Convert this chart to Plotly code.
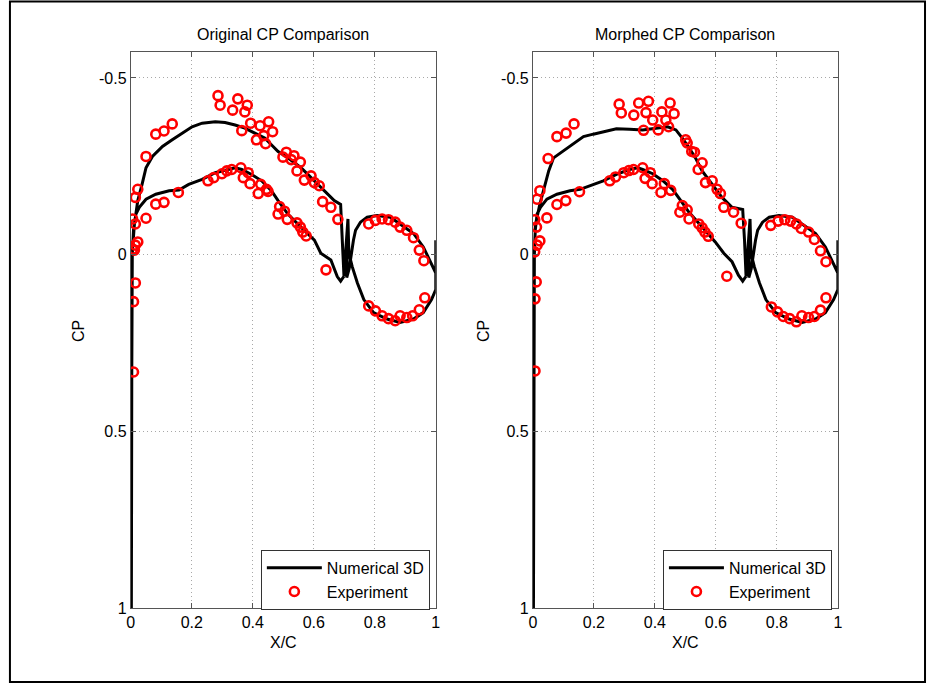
import plotly.graph_objects as go

W, H = 932, 698

# ---------------- data ----------------
x_ticks = [0, 0.2, 0.4, 0.6, 0.8, 1]
x_tick_text = ["0", "0.2", "0.4", "0.6", "0.8", "1"]
y_ticks = [-0.5, 0, 0.5, 1]
y_tick_text = ["-0.5", "0", "0.5", "1"]

titles = ["Original CP Comparison", "Morphed CP Comparison"]

# Numerical 3D, main element (lower surface TE->LE, stagnation, upper surface LE->TE)
left_main_lower_x = [0.699, 0.688, 0.677, 0.667, 0.656, 0.623, 0.602, 0.558, 0.515, 0.483, 0.461, 0.429, 0.396,
                     0.364, 0.342, 0.320, 0.277, 0.234, 0.190, 0.158, 0.126, 0.082, 0.050, 0.028, 0.017, 0.009,
                     0.005, 0.003, 0.002]
left_main_lower_cp = [0.061, 0.075, 0.062, 0.040, 0.015, -0.004, -0.041, -0.078, -0.115, -0.153, -0.181, -0.209,
                      -0.227, -0.241, -0.246, -0.241, -0.232, -0.213, -0.199, -0.183, -0.181, -0.171, -0.157,
                      -0.134, -0.115, -0.070, 0.000, 0.400, 1.000]
left_main_upper_x = [0.003, 0.004, 0.012, 0.023, 0.037, 0.050, 0.071, 0.093, 0.104, 0.136, 0.169, 0.201, 0.234,
                     0.277, 0.309, 0.342, 0.374, 0.407, 0.439, 0.461, 0.483, 0.515, 0.558, 0.602, 0.645, 0.667,
                     0.688, 0.694, 0.699]
left_main_upper_cp = [0.400, 0.006, -0.087, -0.153, -0.199, -0.246, -0.278, -0.297, -0.306, -0.325, -0.344, -0.362,
                      -0.372, -0.376, -0.374, -0.367, -0.358, -0.344, -0.330, -0.311, -0.292, -0.274, -0.246,
                      -0.209, -0.171, -0.153, -0.142, -0.040, 0.061]

right_main_lower_x = [0.699, 0.688, 0.674, 0.664, 0.653, 0.626, 0.598, 0.555, 0.512, 0.485, 0.458, 0.425, 0.393,
                      0.360, 0.344, 0.317, 0.274, 0.231, 0.187, 0.155, 0.122, 0.079, 0.046, 0.025, 0.014, 0.008,
                      0.005, 0.003, 0.002]
right_main_lower_cp = [0.061, 0.075, 0.058, 0.040, 0.020, -0.004, -0.036, -0.078, -0.120, -0.153, -0.185, -0.210,
                       -0.229, -0.241, -0.246, -0.241, -0.227, -0.209, -0.195, -0.185, -0.181, -0.171, -0.157,
                       -0.134, -0.115, -0.070, 0.000, 0.400, 1.000]
right_main_upper_x = [0.003, 0.004, 0.009, 0.023, 0.036, 0.052, 0.068, 0.090, 0.122, 0.166, 0.198, 0.241, 0.274,
                      0.317, 0.360, 0.404, 0.442, 0.469, 0.490, 0.512, 0.533, 0.555, 0.588, 0.620, 0.653, 0.675,
                      0.688, 0.694, 0.699]
right_main_upper_cp = [0.400, 0.006, -0.087, -0.143, -0.185, -0.237, -0.274, -0.288, -0.306, -0.334, -0.341, -0.350,
                       -0.356, -0.355, -0.353, -0.358, -0.362, -0.353, -0.330, -0.302, -0.274, -0.237, -0.199,
                       -0.162, -0.134, -0.130, -0.128, -0.040, 0.061]

# Numerical 3D, flap element (same in both panels)
flap_x = [0.712, 0.708, 0.716, 0.721, 0.730, 0.737, 0.753, 0.775, 0.807, 0.851, 0.883, 0.927, 0.959, 0.986, 1.000,
          1.000, 1.000, 0.986, 0.959, 0.927, 0.883, 0.840, 0.796, 0.764, 0.743, 0.726, 0.715, 0.712]
flap_cp = [-0.101, 0.065, 0.040, 0.006, -0.041, -0.069, -0.092, -0.106, -0.111, -0.106, -0.087, -0.060, -0.022,
           0.024, 0.052, -0.041, 0.099, 0.127, 0.164, 0.182, 0.192, 0.182, 0.164, 0.127, 0.080, 0.034, -0.004,
           -0.101]

# Experiment
left_exp_x = [0.082, 0.109, 0.136, 0.050, 0.023, 0.015, 0.006, 0.015, 0.023, 0.015, 0.006, 0.012,
              0.015, 0.009, 0.009,
              0.286, 0.293, 0.351, 0.334, 0.382, 0.374, 0.393, 0.364, 0.424, 0.452, 0.465, 0.436, 0.412, 0.442,
              0.510, 0.499, 0.535, 0.526, 0.556, 0.545, 0.591, 0.569, 0.602, 0.618, 0.629, 0.656, 0.679,
              0.082, 0.109, 0.156, 0.050, 0.253, 0.272, 0.299, 0.315, 0.331, 0.361, 0.385, 0.369, 0.391, 0.426,
              0.445, 0.450, 0.418, 0.488, 0.504, 0.483, 0.513, 0.545, 0.556, 0.564, 0.575, 0.640,
              0.780, 0.802, 0.824, 0.845, 0.867, 0.883, 0.905, 0.927, 0.946, 0.961, 0.964, 0.946, 0.924, 0.905,
              0.883, 0.867, 0.845, 0.824, 0.802, 0.780]
left_exp_cp = [-0.341, -0.350, -0.370, -0.278, -0.185, -0.162, -0.101, -0.087, -0.036, -0.027, -0.015, -0.013,
               0.080, 0.133, 0.332,
               -0.450, -0.423, -0.441, -0.409, -0.423, -0.404, -0.372, -0.351, -0.365, -0.376, -0.348, -0.337,
               -0.325, -0.314, -0.290, -0.276, -0.280, -0.269, -0.262, -0.237, -0.223, -0.211, -0.204, -0.195,
               -0.150, -0.134, -0.100,
               -0.143, -0.148, -0.176, -0.103, -0.209, -0.218, -0.229, -0.237, -0.241, -0.246, -0.232, -0.218,
               -0.201, -0.199, -0.185, -0.179, -0.173, -0.136, -0.123, -0.115, -0.100, -0.090, -0.078, -0.064,
               -0.053, 0.043,
               -0.087, -0.097, -0.101, -0.099, -0.092, -0.078, -0.069, -0.048, -0.013, 0.017, 0.122, 0.156,
               0.173, 0.178, 0.173, 0.187, 0.181, 0.173, 0.159, 0.145]

right_exp_x = [0.079, 0.109, 0.135, 0.050, 0.023, 0.014, 0.006, 0.012, 0.023, 0.014, 0.006,
               0.011, 0.007, 0.007,
               0.283, 0.290, 0.347, 0.331, 0.379, 0.371, 0.393, 0.363, 0.423, 0.450, 0.463, 0.436, 0.411, 0.445,
               0.501, 0.506, 0.521, 0.530, 0.555, 0.542, 0.588, 0.566, 0.604, 0.615, 0.626, 0.658, 0.683,
               0.079, 0.108, 0.153, 0.046, 0.252, 0.271, 0.298, 0.315, 0.330, 0.360, 0.385, 0.368, 0.391, 0.431,
               0.452, 0.420, 0.490, 0.506, 0.482, 0.512, 0.544, 0.555, 0.564, 0.575, 0.636,
               0.780, 0.804, 0.826, 0.845, 0.864, 0.880, 0.904, 0.923, 0.943, 0.961, 0.961, 0.943, 0.923, 0.904,
               0.882, 0.864, 0.842, 0.821, 0.802, 0.782]
right_exp_cp = [-0.334, -0.344, -0.370, -0.272, -0.181, -0.157, -0.099, -0.078, -0.039, -0.027, -0.008,
                0.077, 0.125, 0.329,
                -0.426, -0.401, -0.429, -0.395, -0.434, -0.402, -0.381, -0.352, -0.404, -0.429, -0.399, -0.381,
                -0.353, -0.362, -0.325, -0.316, -0.292, -0.290, -0.260, -0.241, -0.209, -0.204, -0.185, -0.173,
                -0.134, -0.120, -0.089,
                -0.142, -0.153, -0.178, -0.104, -0.209, -0.220, -0.232, -0.238, -0.241, -0.246, -0.232, -0.216,
                -0.201, -0.201, -0.182, -0.176, -0.139, -0.127, -0.120, -0.101, -0.087, -0.076, -0.064, -0.052,
                0.061,
                -0.083, -0.095, -0.099, -0.095, -0.087, -0.074, -0.064, -0.043, -0.011, 0.020, 0.122, 0.157,
                0.175, 0.178, 0.173, 0.190, 0.181, 0.175, 0.162, 0.148]

# ---------------- figure ----------------
FONT = "Liberation Sans, Arial, Helvetica, sans-serif"

def px_x(p):
    return p / W

def px_y(p):
    return 1 - p / H

left_dom = [px_x(128), px_x(436)]
right_dom = [px_x(534), px_x(842)]
y_dom = [px_y(616), px_y(53)]
y_range = [1.0, -0.5726]

fig = go.Figure()

line_style = dict(color="black", width=3)
marker_style = dict(symbol="circle-open", size=9, color="red", line=dict(color="red", width=2.6))

panels = [
    ("x", "y", "legend", left_main_lower_x, left_main_lower_cp, left_main_upper_x, left_main_upper_cp,
     left_exp_x, left_exp_cp),
    ("x2", "y2", "legend2", right_main_lower_x, right_main_lower_cp, right_main_upper_x, right_main_upper_cp,
     right_exp_x, right_exp_cp),
]
for xa, ya, lg, lx, lc, ux, uc, ex, ec in panels:
    nx = lx + ux + flap_x
    nc = lc + uc + flap_cp
    fig.add_trace(go.Scatter(x=nx, y=nc, mode="lines", line=line_style, name="Numerical 3D",
                             xaxis=xa, yaxis=ya, legend=lg))
    fig.add_trace(go.Scatter(x=ex, y=ec, mode="markers", marker=marker_style, name="Experiment",
                             xaxis=xa, yaxis=ya, legend=lg))

axis_common = dict(
    showline=True, linecolor="#555", linewidth=1, mirror="ticks",
    ticks="inside", ticklen=5, tickcolor="#555",
    showgrid=True, gridcolor="#a8a8a8", griddash="1px,3px", gridwidth=1,
    zeroline=False, tickfont=dict(family=FONT, size=16, color="black"),
)

legend_common = dict(y=px_y(557), yanchor="top", bordercolor="#333", borderwidth=1, bgcolor="white",
                     font=dict(family=FONT, size=16, color="black"), tracegroupgap=0, itemwidth=55)

fig.update_layout(
    width=W, height=H,
    margin=dict(l=0, r=0, t=0, b=0),
    paper_bgcolor="white", plot_bgcolor="white",
    font=dict(family=FONT, size=16, color="black"),
    xaxis=dict(domain=left_dom, anchor="y", range=[0, 1], tickvals=x_ticks, ticktext=x_tick_text, **axis_common),
    yaxis=dict(domain=y_dom, anchor="x", range=y_range, tickvals=y_ticks, ticktext=y_tick_text, **axis_common),
    xaxis2=dict(domain=right_dom, anchor="y2", range=[0, 1], tickvals=x_ticks, ticktext=x_tick_text,
                **axis_common),
    yaxis2=dict(domain=y_dom, anchor="x2", range=y_range, tickvals=y_ticks, ticktext=y_tick_text,
                **axis_common),
    legend=dict(x=px_x(430), xanchor="right", **legend_common),
    legend2=dict(x=px_x(836), xanchor="right", **legend_common),
    showlegend=True,
    hovermode=False,
)

annotations = []
for i, (cx, lx) in enumerate([((128 + 436) / 2, 75), ((534 + 842) / 2, 484)]):
    annotations.append(dict(text=titles[i], x=px_x(cx), y=px_y(35), xref="paper", yref="paper",
                            showarrow=False, xanchor="center", yanchor="middle",
                            font=dict(family=FONT, size=16, color="black")))
    annotations.append(dict(text="X/C", x=px_x(cx), y=px_y(651), xref="paper", yref="paper",
                            showarrow=False, xanchor="center", yanchor="middle",
                            font=dict(family=FONT, size=16, color="black")))
    annotations.append(dict(text="CP", x=px_x(lx), y=px_y(335), xref="paper", yref="paper",
                            showarrow=False, xanchor="center", yanchor="middle", textangle=-90,
                            font=dict(family=FONT, size=16, color="black")))
fig.update_layout(annotations=annotations)

fig.add_shape(type="rect", xref="paper", yref="paper",
              x0=px_x(6), x1=px_x(930), y0=px_y(691), y1=px_y(1.5),
              line=dict(color="black", width=2), fillcolor="rgba(0,0,0,0)", layer="above")

fig.write_html("out.html")
